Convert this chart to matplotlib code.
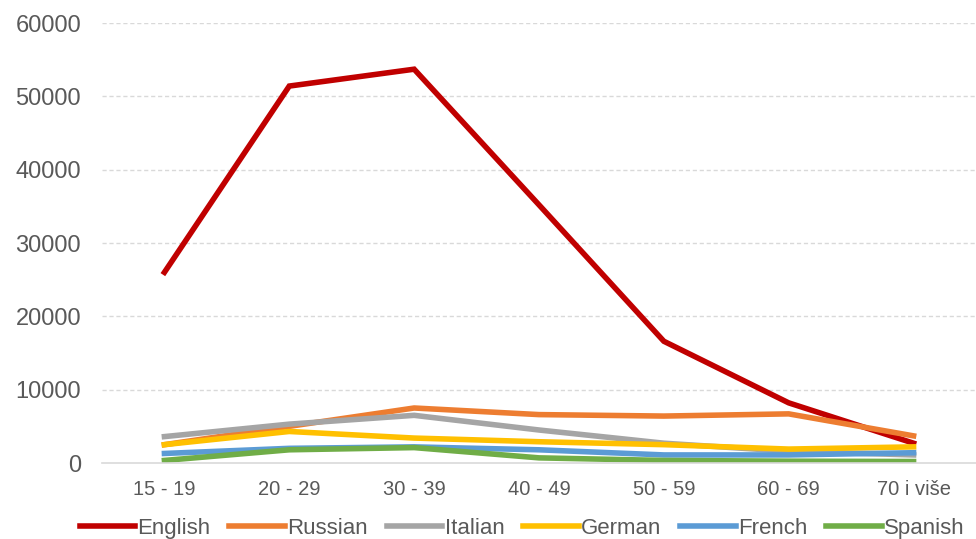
import numpy as np
import matplotlib as mpl
mpl.use('Agg')
import matplotlib.pyplot as plt

mpl.rcParams['font.family'] = ['Liberation Sans', 'DejaVu Sans']

########################################################
age_groups = ['15 - 19', '20 - 29', '30 - 39', '40 - 49', '50 - 59', '60 - 69', '70 i više']
languages = ['English', 'Russian', 'Italian', 'German', 'French', 'Spanish']
english = [26000, 51400, 53700, 35200, 16600, 8200, 2700]
russian = [2500, 5000, 7500, 6600, 6400, 6700, 3700]
italian = [3600, 5300, 6500, 4500, 2700, 1600, 1100]
german = [2500, 4300, 3400, 2900, 2500, 1900, 2200]
french = [1300, 2000, 2200, 1800, 1100, 1100, 1400]
spanish = [350, 1800, 2100, 700, 350, 250, 200]
colors = ['#C00000', '#ED7D31', '#A5A5A5', '#FFC000', '#5B9BD5', '#70AD47']
yticks = [0, 10000, 20000, 30000, 40000, 50000, 60000]
########################################################

series = [english, russian, italian, german, french, spanish]

fig = plt.figure(figsize=(9.76, 5.39), dpi=100)
ax = fig.add_axes([102 / 976, 76 / 539, 874 / 976, 440 / 539])

x = np.arange(len(age_groups))
for name, vals, c in zip(languages, series, colors):
    ax.plot(x, vals, color=c, lw=4, label=name, solid_joinstyle='miter')

ax.set_xlim(-0.5, len(age_groups) - 0.5)
ax.set_ylim(0, 60000)
ax.set_yticks(yticks)
ax.set_xticks(x)
ax.set_xticklabels(age_groups, fontsize=14.5, color='#595959')
ax.tick_params(axis='y', labelsize=17, labelcolor='#595959', length=0, pad=15)
ax.tick_params(axis='x', length=0, pad=12)

for yv in yticks[1:]:
    ax.axhline(yv, color='#D9D9D9', lw=1, ls=(0, (3, 2)), zorder=0)
for s in ['top', 'right', 'left']:
    ax.spines[s].set_visible(False)
ax.spines['bottom'].set_color('#D9D9D9')
ax.spines['bottom'].set_linewidth(1.2)

leg = fig.legend(loc='center', bbox_to_anchor=(0.535, 0.02), ncol=6, frameon=False,
                 handlelength=2.5, handletextpad=0.1, columnspacing=0.85,
                 prop={'size': 16})
for t in leg.get_texts():
    t.set_color('#595959')

fig.savefig('out.png', dpi=100)
